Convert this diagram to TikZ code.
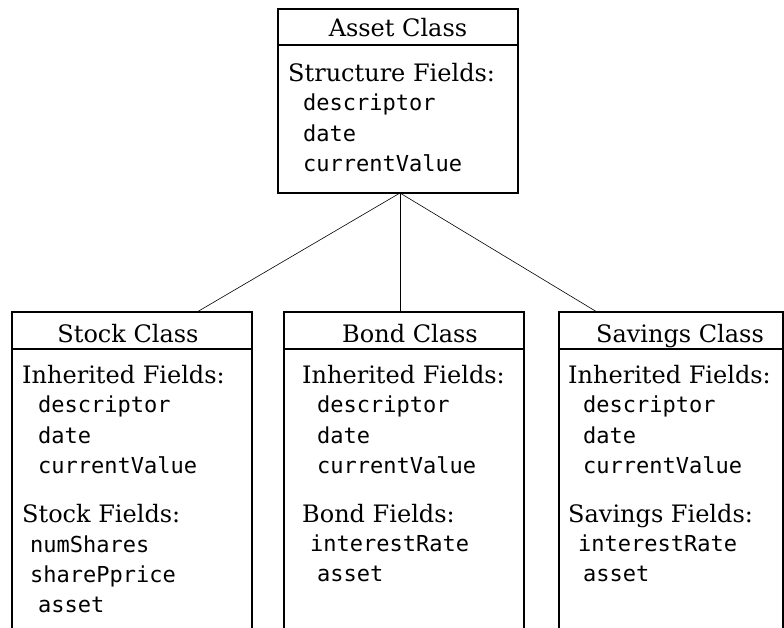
\documentclass[tikz,border=0pt]{standalone}
\usepackage{fontspec}
\newfontfamily\monofont{DejaVu Sans Mono}
\newfontfamily\serifont{DejaVu Serif}
\begin{document}
\begin{tikzpicture}[x=1pt,y=-1pt,
  boxline/.style={line width=1.3pt},
  link/.style={line width=0.6pt},
  ttl/.style={anchor=base,inner sep=0pt,font=\serifont\fontsize{24}{28}\selectfont},
  hdr/.style={anchor=base west,inner sep=0pt,font=\serifont\fontsize{24}{28}\selectfont},
  fld/.style={anchor=base west,inner sep=0pt,font=\monofont\fontsize{22}{24}\selectfont}]
\useasboundingbox (0,0) rectangle (784,628);
% Asset box
\draw[boxline] (278,9) rectangle (518,193);
\draw[boxline] (278,45) -- (518,45);
\node[ttl] (at) at (398,37) {Asset Class};
\node[hdr] (ah) at (288,82) {Structure Fields:};
\node[fld] (a1) at (303,111) {descriptor};
\node[fld] (a2) at (303,142) {date};
\node[fld] (a3) at (303,172) {currentValue};
\coordinate (j) at (400,193);
% Stock box
\draw[boxline] (12,628) -- (12,312) -- (252,312) -- (252,628);
\draw[boxline] (12,349) -- (252,349);
\node[ttl] (st) at (128,342) {Stock Class};
\node[hdr] (sh1) at (22,383) {Inherited Fields:};
\node[fld] (s1) at (38,412) {descriptor};
\node[fld] (s2) at (38,443) {date};
\node[fld] (s3) at (38,473) {currentValue};
\node[hdr] (sh2) at (22,522) {Stock Fields:};
\node[fld] (s4) at (30,552) {numShares};
\node[fld] (s5) at (30,582) {sharePprice};
\node[fld] (s6) at (38,612) {asset};
\coordinate (sj) at (197,312);
% Bond box
\draw[boxline] (284,628) -- (284,312) -- (524,312) -- (524,628);
\draw[boxline] (284,349) -- (524,349);
\node[ttl] (bt) at (410,342) {Bond Class};
\node[hdr] (bh1) at (302,383) {Inherited Fields:};
\node[fld] (b1) at (317,412) {descriptor};
\node[fld] (b2) at (317,443) {date};
\node[fld] (b3) at (317,473) {currentValue};
\node[hdr] (bh2) at (302,522) {Bond Fields:};
\node[fld] (b4) at (310,551) {interestRate};
\node[fld] (b5) at (317,581) {asset};
\coordinate (bj) at (400,312);
% Savings box
\draw[boxline] (559,628) -- (559,312) -- (783,312) -- (783,628);
\draw[boxline] (559,349) -- (783,349);
\node[ttl] (vt) at (680,342) {Savings Class};
\node[hdr] (vh1) at (568,383) {Inherited Fields:};
\node[fld] (v1) at (583,412) {descriptor};
\node[fld] (v2) at (583,443) {date};
\node[fld] (v3) at (583,473) {currentValue};
\node[hdr] (vh2) at (568,522) {Savings Fields:};
\node[fld] (v4) at (578,551) {interestRate};
\node[fld] (v5) at (583,581) {asset};
\coordinate (vj) at (597,312);
% connectors
\draw[link] (j) -- (sj);
\draw[link] (j) -- (bj);
\draw[link] (j) -- (vj);
\end{tikzpicture}
\end{document}
